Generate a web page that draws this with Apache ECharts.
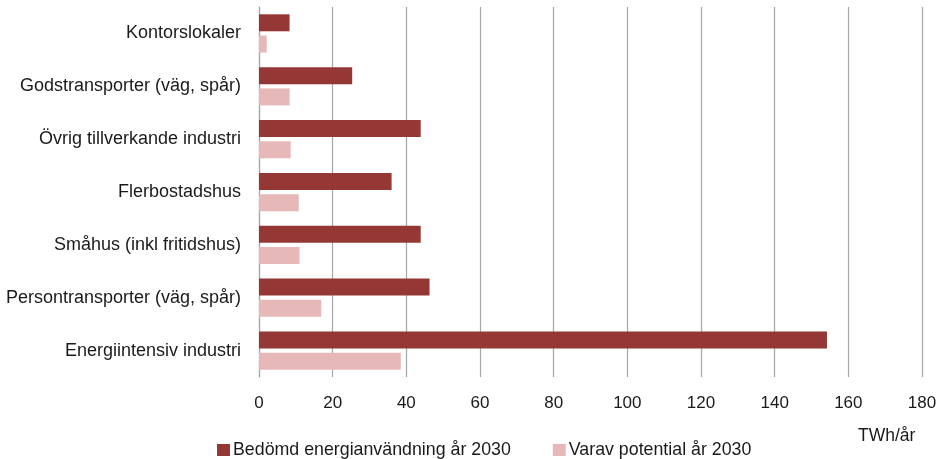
<!DOCTYPE html>
<html>
<head>
<meta charset="utf-8">
<script src="https://cdn.jsdelivr.net/npm/echarts@6/dist/echarts.min.js"></script>
<style>html,body{margin:0;padding:0;background:#fff}#c{width:938px;height:459px}</style>
</head>
<body>
<div id="c"></div>
<script>
const categories = ["Kontorslokaler","Godstransporter (väg, spår)","Övrig tillverkande industri","Flerbostadshus","Småhus (inkl fritidshus)","Persontransporter (väg, spår)","Energiintensiv industri"];
const energyUse = [8.3, 25.3, 43.9, 36.0, 43.9, 46.3, 154.2];
const potential = [2.1, 8.3, 8.6, 10.8, 11.0, 16.9, 38.5];
const seriesNames = ["Bedömd energianvändning år 2030", "Varav potential år 2030"];
const axisUnit = "TWh/år";

const font = "Liberation Sans, Arial, sans-serif";
const chart = echarts.init(document.getElementById('c'));
chart.setOption({
  animation: false,
  title: {text: axisUnit, left: 853, top: 422, textStyle: {fontFamily: font, fontSize: 17.5, fontWeight: 'normal', color: '#1a1a1a'}},
  legend: {
    top: 436, left: 212, itemWidth: 13, itemHeight: 12, itemGap: 42, icon: 'rect',
    textStyle: {fontFamily: font, fontSize: 17.8, color: '#1a1a1a', padding: [0,0,0,-2]},
    data: seriesNames
  },
  grid: {left: 259, right: 16, top: 7, bottom: 82, containLabel: false, outerBoundsMode: 'none'},
  xAxis: {
    type: 'value', min: 0, max: 180, interval: 20,
    axisLine: {show: false},
    axisTick: {show: false},
    axisLabel: {fontFamily: font, fontSize: 17, color: '#1a1a1a', margin: 18},
    splitLine: {show: true, lineStyle: {color: '#a6a6a6', width: 1.2}}
  },
  yAxis: {
    type: 'category', inverse: true, data: categories,
    axisLine: {show: true, lineStyle: {color: '#a6a6a6', width: 1.2}},
    axisTick: {show: false},
    axisLabel: {fontFamily: font, fontSize: 18, color: '#1a1a1a', margin: 18}
  },
  series: [
    {name: seriesNames[0], type: 'bar', data: energyUse, barWidth: 17, barGap: '25%', itemStyle: {color: '#953735'}},
    {name: seriesNames[1], type: 'bar', data: potential, barWidth: 17, itemStyle: {color: '#e6b9b8'}}
  ]
});
</script>
</body>
</html>
